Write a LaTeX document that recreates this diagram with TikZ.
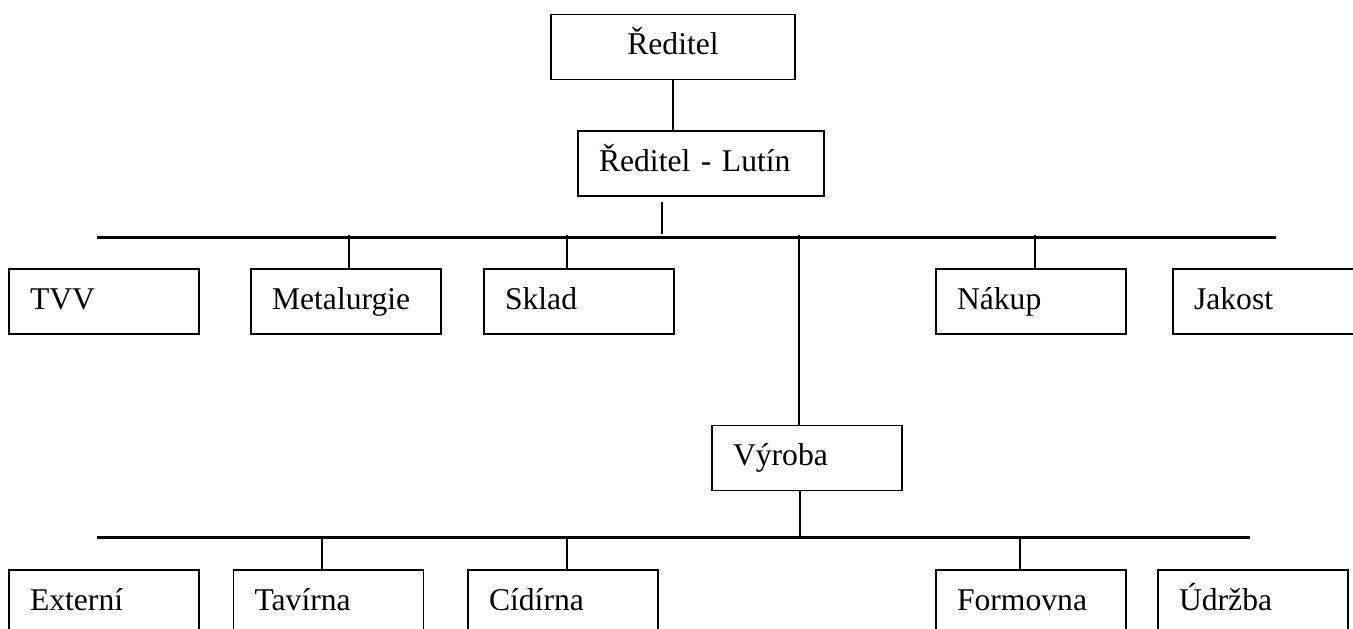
\documentclass[tikz,border=0pt]{standalone}
\usepackage{fontspec}
\setmainfont{Liberation Serif}
\usepackage{tikz}

\begin{document}
\begin{tikzpicture}[
  unit/.style={draw, line width=0.9pt, minimum height=1.3cm, text width=#1,
    inner xsep=0.42cm, text height=0.42cm, text depth=0.12cm, align=left,
    font=\rmfamily\fontsize{18}{21}\selectfont},
  unit/.default=2.96cm,
  bus/.style={line width=1.5pt},
  conn/.style={line width=0.6pt}
]

% Page frame
\useasboundingbox (0,0) rectangle (27.06,-12.56);
\clip (0,0) rectangle (27.06,-12.56);

% Top of the chart
\node[unit=4.04cm, align=center] (direktor) at (13.46,-0.94) {Ředitel};
\node[unit=4.08cm] (lutin) at (14.02,-3.27) {Ředitel - Lutín};
\draw[conn] (direktor.south) -- (direktor.south |- lutin.north);

% First level departments
\foreach \name/\x/\label in {tvv/2.08/TVV, metal/6.92/Metalurgie, sklad/11.58/Sklad,
                             nakup/20.62/Nákup, jakost/25.36/Jakost} {
    \node[unit] (\name) at (\x,-6.03) {\label};
}

% Production and its sections
\node[unit] (vyroba) at (16.14,-9.16) {Výroba};

\foreach \name/\x/\label in {externi/2.08/Externí, tavirna/6.57/Tavírna, cidirna/11.26/Cídírna,
                             formovna/20.62/Formovna, udrzba/25.06/Údržba} {
    \node[unit] (\name) at (\x,-12.05) {\label};
}

% Upper bus line
\coordinate (bus1w) at (1.94,-4.75);
\coordinate (bus1e) at (25.52,-4.75);
\draw[bus] (bus1w) -- (bus1e);

\coordinate (lutdrop) at (13.24,-4.68);
\draw[conn] (lutin.south -| lutdrop) ++(0,-0.1) -- (lutdrop);

\foreach \name/\x in {metal/6.98, sklad/11.34, vyroba/15.98, nakup/20.70} {
    \coordinate (tk\name) at (\x,-4.70);
    \draw[conn] (tk\name) -- (tk\name |- \name.north);
}

% Lower bus line
\coordinate (bus2w) at (1.94,-10.75);
\coordinate (bus2e) at (25.00,-10.75);
\draw[bus] (bus2w) -- (bus2e);

\coordinate (vydrop) at (16.00,-10.75);
\draw[conn] (vydrop |- vyroba.south) -- (vydrop);

\foreach \name/\x in {tavirna/6.44, cidirna/11.34, formovna/20.40} {
    \coordinate (tk\name) at (\x,-10.75);
    \draw[conn] (tk\name) -- (tk\name |- \name.north);
}

\end{tikzpicture}
\end{document}
